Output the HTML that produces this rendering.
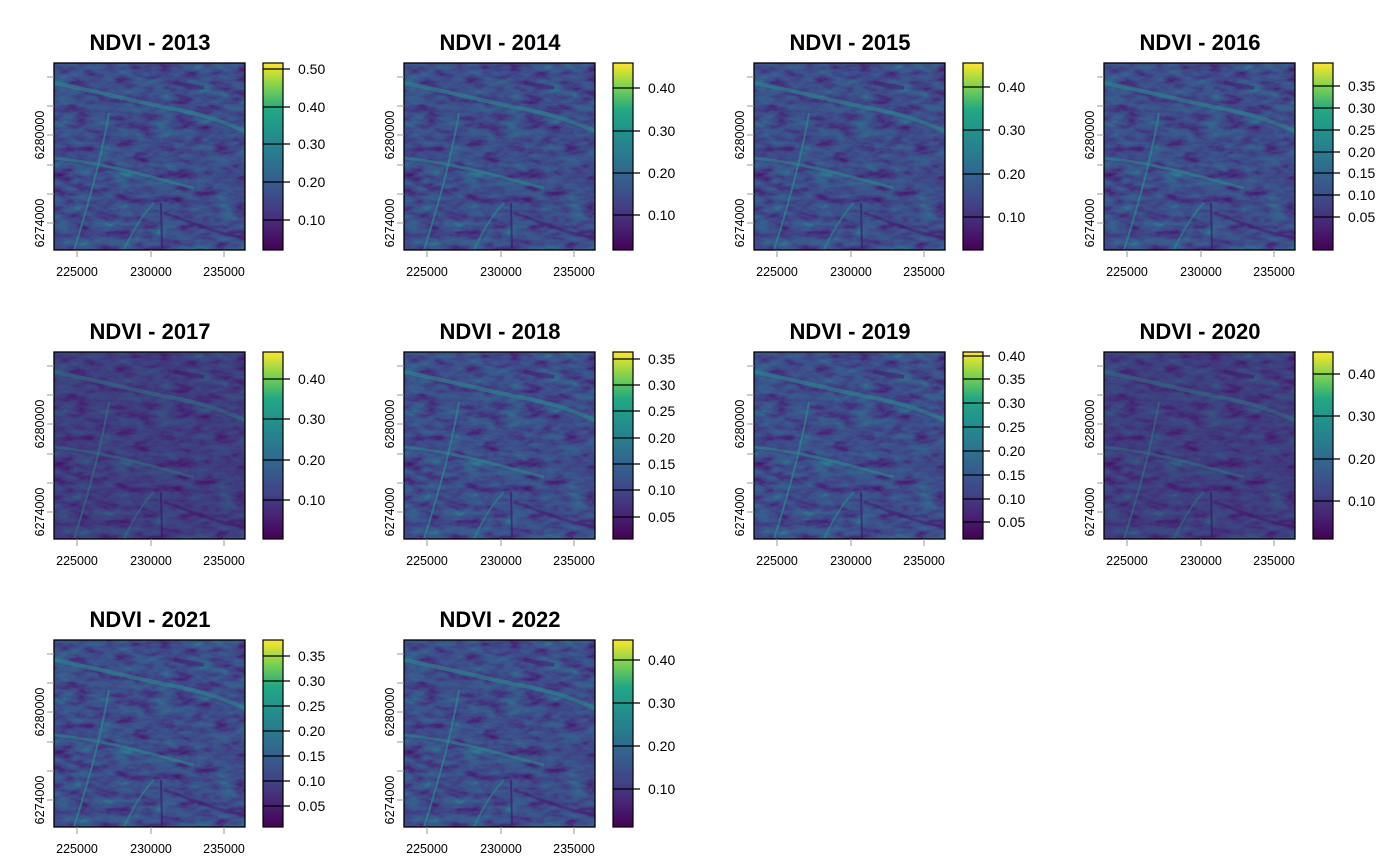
<!DOCTYPE html>
<html><head><meta charset="utf-8"><style>
html,body{margin:0;padding:0;background:#fff;}
svg{display:block;font-family:"Liberation Sans",Arial,sans-serif;}
</style></head><body>
<svg id="s" width="1400" height="865" xmlns="http://www.w3.org/2000/svg">
<defs>
<linearGradient id="vir" x1="0" y1="1" x2="0" y2="0">
<stop offset="0" stop-color="#440154"/><stop offset="0.13" stop-color="#482475"/>
<stop offset="0.25" stop-color="#414487"/><stop offset="0.38" stop-color="#355f8d"/>
<stop offset="0.5" stop-color="#2a788e"/><stop offset="0.63" stop-color="#21918c"/>
<stop offset="0.75" stop-color="#22a884"/><stop offset="0.87" stop-color="#7ad151"/>
<stop offset="1" stop-color="#fde725"/></linearGradient>
<filter id="tex" x="0" y="0" width="100%" height="100%" color-interpolation-filters="sRGB">
<feTurbulence type="fractalNoise" baseFrequency="0.05 0.12" numOctaves="4" seed="7"/>
<feColorMatrix type="matrix" values="1 0 0 0 0  1 0 0 0 0  1 0 0 0 0  0 0 0 0 1"/>
<feComponentTransfer>
<feFuncR type="table" tableValues="0.27 0.28 0.27 0.25 0.23 0.21 0.17 0.15"/>
<feFuncG type="table" tableValues="0.00 0.10 0.18 0.27 0.33 0.38 0.47 0.52"/>
<feFuncB type="table" tableValues="0.33 0.42 0.49 0.53 0.55 0.55 0.56 0.56"/>
</feComponentTransfer>
</filter>
<g id="map">
<rect width="191" height="187" fill="#3b528b" filter="url(#tex)"/>
<path d="M0 20 C40 28 80 38 120 46 S170 60 191 68" stroke="#2a8a8c" stroke-width="4" fill="none" opacity="0.6"/>
<path d="M0 95 C50 100 90 112 140 125" stroke="#2a8a8c" stroke-width="3" fill="none" opacity="0.6"/>
<path d="M55 50 C48 90 38 130 20 187" stroke="#2a8a8c" stroke-width="2" fill="none" opacity="0.7"/>
<path d="M100 140 C90 150 80 165 70 187" stroke="#2a8a8c" stroke-width="2" fill="none" opacity="0.6"/>
<path d="M107 140 L108 187" stroke="#3a1c6c" stroke-width="2" fill="none" opacity="0.7"/>
<path d="M110 150 C140 160 160 170 191 175" stroke="#46186e" stroke-width="3" fill="none" opacity="0.5"/>
<path d="M120 20 L150 25" stroke="#46186e" stroke-width="4" fill="none" opacity="0.5"/>
</g>
</defs>
</svg>
<script>
var s=document.getElementById('s'),NS='http://www.w3.org/2000/svg';
function el(t,a,txt){var e=document.createElementNS(NS,t);for(var k in a)e.setAttribute(k,a[k]);if(txt!=null)e.textContent=txt;s.appendChild(e);return e;}
var P=[
[2013,[[0.50,69],[0.40,107],[0.30,144],[0.20,182],[0.10,220]],0],
[2014,[[0.40,88],[0.30,131],[0.20,173],[0.10,215]],0],
[2015,[[0.40,87],[0.30,130],[0.20,174],[0.10,217]],0],
[2016,[[0.35,86],[0.30,108],[0.25,130],[0.20,152],[0.15,173],[0.10,195],[0.05,217]],0],
[2017,[[0.40,90],[0.30,130],[0.20,171],[0.10,211]],1],
[2018,[[0.35,70],[0.30,96],[0.25,122],[0.20,149],[0.15,175],[0.10,201],[0.05,228]],0],
[2019,[[0.40,67],[0.35,90],[0.30,114],[0.25,138],[0.20,162],[0.15,186],[0.10,210],[0.05,233]],0],
[2020,[[0.40,85],[0.30,127],[0.20,170],[0.10,212]],1],
[2021,[[0.35,79],[0.30,104],[0.25,129],[0.20,154],[0.15,179],[0.10,204],[0.05,229]],0],
[2022,[[0.40,83],[0.30,126],[0.20,169],[0.10,212]],0]];
P.forEach(function(p,i){
var ox=350*(i%4), oy=[0,289,577][Math.floor(i/4)];
var bx=54+ox, by=63+oy;
el('text',{x:150+ox,y:50+oy,'text-anchor':'middle','font-size':'22','font-weight':'bold'},'NDVI - '+p[0]);
el('use',{href:'#map',x:bx,y:by});
if(p[2])el('rect',{x:bx,y:by,width:191,height:187,fill:'#440154',opacity:0.2});
el('rect',{x:bx,y:by,width:191,height:187,fill:'none',stroke:'#000','stroke-width':1.3});
[77,151,224].forEach(function(x,j){el('line',{x1:x+ox,y1:by+187,x2:x+ox,y2:by+194,stroke:'#999'});
el('text',{x:x+ox,y:276+oy,'text-anchor':'middle','font-size':'12.5'},['225000','230000','235000'][j]);});
[77,106,135,165,194,223].forEach(function(y){el('line',{x1:bx-7,y1:y+oy,x2:bx,y2:y+oy,stroke:'#999'});});
[[135,'6280000'],[223,'6274000']].forEach(function(t){el('text',{x:0,y:0,transform:'translate('+(44+ox)+','+(t[0]+oy)+') rotate(-90)','text-anchor':'middle','font-size':'12.5'},t[1]);});
var cx=263+ox;
el('rect',{x:cx,y:by,width:20,height:187,fill:'url(#vir)',stroke:'#000','stroke-width':1.2});
p[1].forEach(function(t){var y=t[1]+oy;el('line',{x1:cx,y1:y,x2:cx+27,y2:y,stroke:'#000','stroke-width':1.3});
el('text',{x:cx+35,y:y+5,'font-size':'14'},t[0].toFixed(2));});
});
</script>
</body></html>
